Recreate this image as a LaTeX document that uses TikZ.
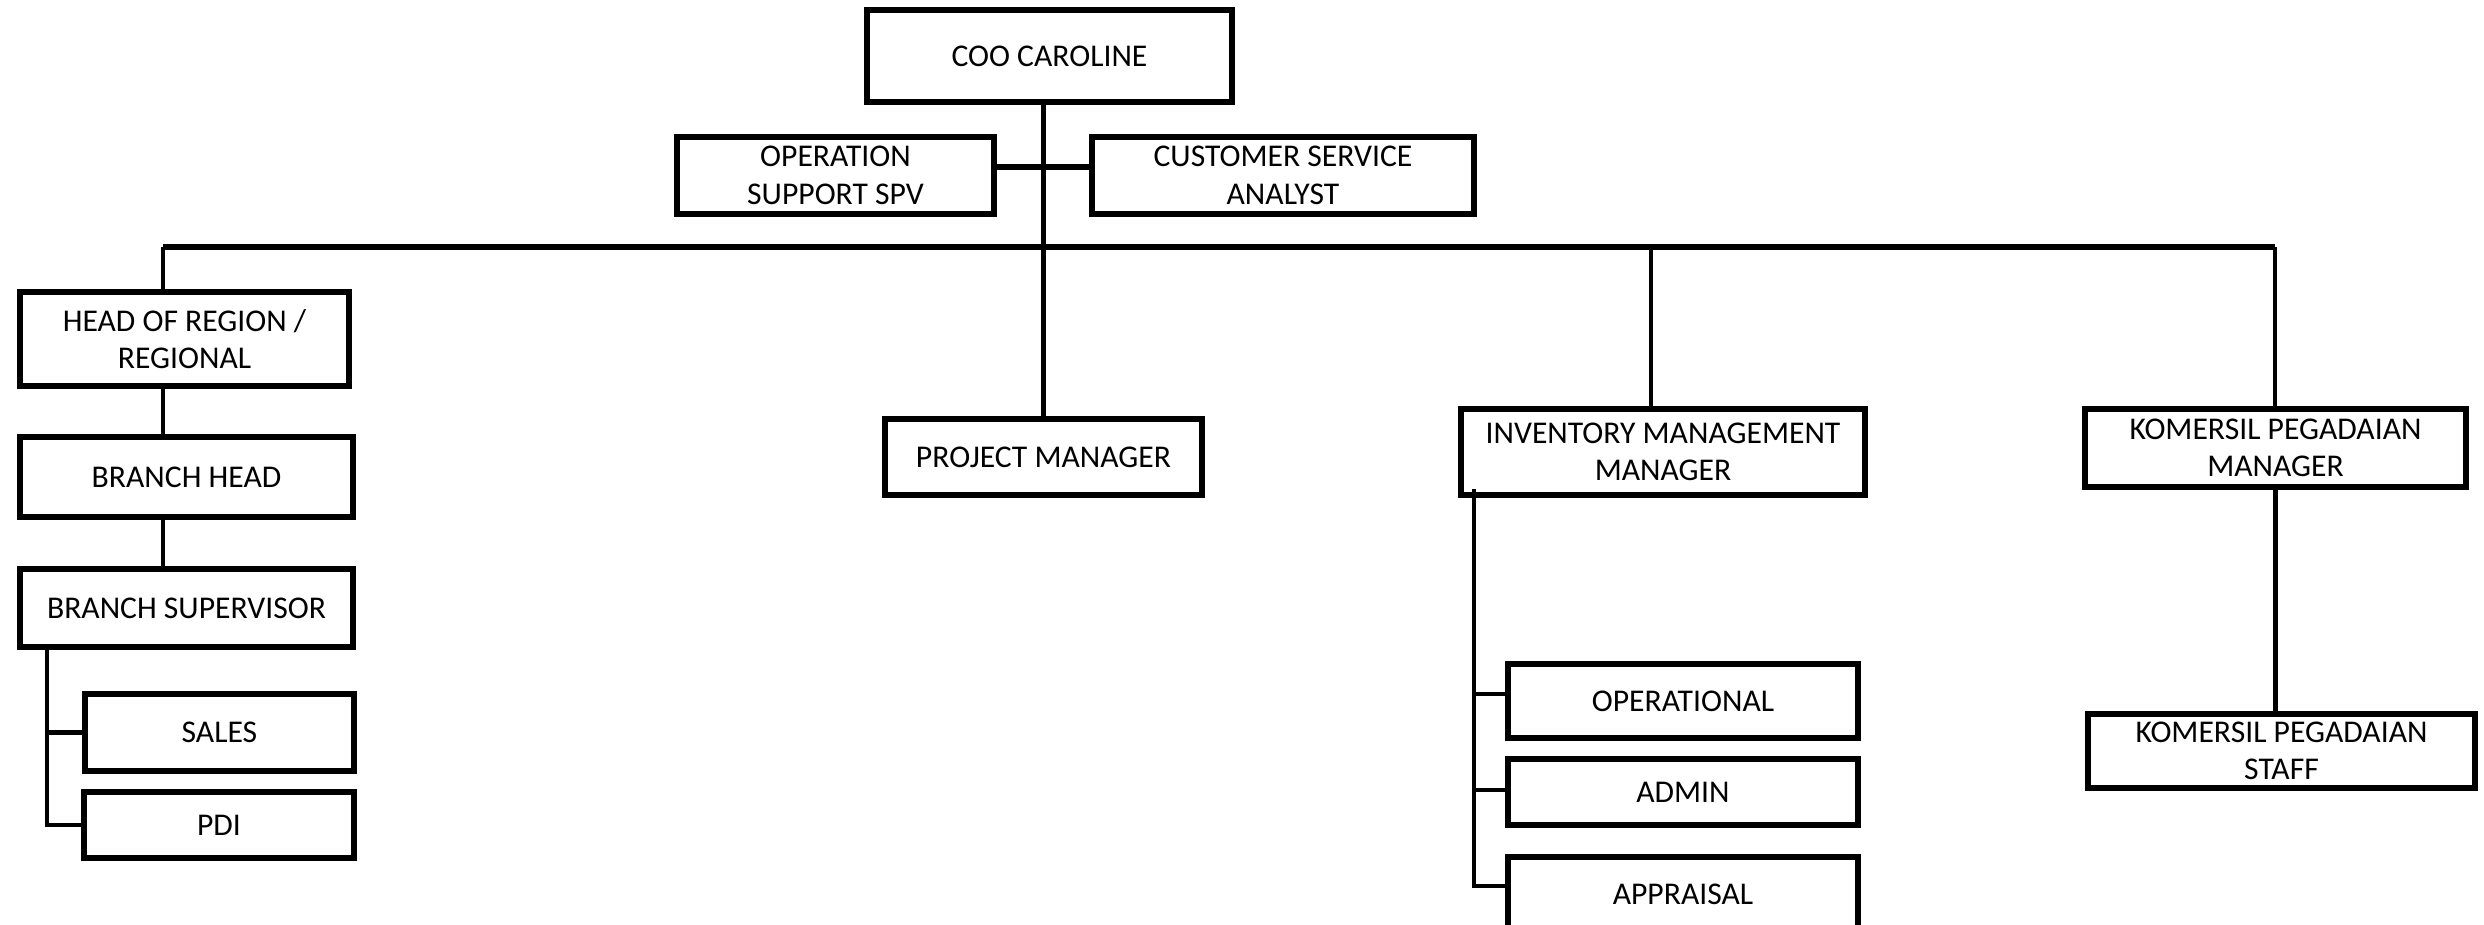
\documentclass[tikz,border=0pt]{standalone}
\usepackage{fontspec}
\setmainfont{Carlito}
\usetikzlibrary{calc}
\begin{document}
\begin{tikzpicture}[x=0.01cm,y=-0.01cm]
\tikzset{
  box/.style={draw, line width=0.055cm, fill=white, inner sep=0pt, align=center,
    font=\fontsize{9pt}{10.7pt}\selectfont},
  conn/.style={line width=0.045cm}
}
\useasboundingbox (0,0) rectangle (2484,925);
% nodes
\node[box, minimum width=3.65cm, minimum height=0.92cm] (coo) at (1049.5,56) {COO CAROLINE};
\node[box, minimum width=3.17cm, minimum height=0.77cm] (ops) at (835.5,175.5) {OPERATION\\SUPPORT SPV};
\node[box, minimum width=3.82cm, minimum height=0.77cm] (csa) at (1283,175.5) {CUSTOMER SERVICE\\ANALYST};
\node[box, minimum width=3.29cm, minimum height=0.94cm] (hor) at (184.5,339) {HEAD OF REGION /\\REGIONAL};
\node[box, minimum width=3.33cm, minimum height=0.80cm] (bh) at (186.5,477) {BRANCH HEAD};
\node[box, minimum width=3.33cm, minimum height=0.78cm] (bs) at (186.5,608) {BRANCH SUPERVISOR};
\node[box, minimum width=2.69cm, minimum height=0.77cm] (sales) at (219.5,732.5) {SALES};
\node[box, minimum width=2.70cm, minimum height=0.66cm] (pdi) at (219,825) {PDI};
\node[box, minimum width=3.17cm, minimum height=0.76cm] (pm) at (1043.5,457) {PROJECT MANAGER};
\node[box, minimum width=4.04cm, minimum height=0.86cm] (imm) at (1663,452) {INVENTORY MANAGEMENT\\MANAGER};
\node[box, minimum width=3.50cm, minimum height=0.74cm] (op) at (1683,701) {OPERATIONAL};
\node[box, minimum width=3.50cm, minimum height=0.66cm] (adm) at (1683,792) {ADMIN};
\node[box, minimum width=3.50cm, minimum height=0.74cm] (app) at (1683,894) {APPRAISAL};
\node[box, minimum width=3.81cm, minimum height=0.78cm] (kpm) at (2275.5,448) {KOMERSIL PEGADAIAN\\MANAGER};
\node[box, minimum width=3.87cm, minimum height=0.74cm] (kps) at (2281.5,751) {KOMERSIL PEGADAIAN\\STAFF};
% helper coordinates
\coordinate (busL) at (163,247);
\coordinate (busI) at (1651,247);
\coordinate (busR) at (2275,247);
\coordinate (bsx) at (47,0);
\coordinate (imx) at (1474,0);
\coordinate (opsb) at ($(ops.east)+(0,-8.5)$);
\coordinate (csab) at ($(csa.west)+(0,-8.5)$);
\coordinate (opb) at ($(op.west)+(0,-7)$);
\coordinate (admb) at ($(adm.west)+(0,-2)$);
\coordinate (appb) at ($(app.west)+(0,-8)$);
\coordinate (imtop) at ($(imx |- imm.south)+(0,-9)$);
% connectors
\draw[conn] (pm.north |- coo.south) -- (pm.north);
\draw[conn, line width=0.055cm] (opsb) -- (csab);
\draw[conn, line width=0.055cm] (busL) -- (busR);
\draw[conn] (busL) -- (busL |- hor.north);
\draw[conn] (busI) -- (busI |- imm.north);
\draw[conn] (busR) -- (busR |- kpm.north);
\draw[conn] (busL |- hor.south) -- (busL |- bh.north);
\draw[conn] (busL |- bh.south) -- (busL |- bs.north);
\draw[conn] (bsx |- bs.south) -- (bsx |- pdi.west) -- (pdi.west);
\draw[conn] (bsx |- sales.west) -- (sales.west);
\draw[conn] (imtop) -- (imx |- appb) -- (appb);
\draw[conn] (imx |- opb) -- (opb);
\draw[conn] (imx |- admb) -- (admb);
\draw[conn] (kpm.south) -- (kpm.south |- kps.north);
\end{tikzpicture}
\end{document}
